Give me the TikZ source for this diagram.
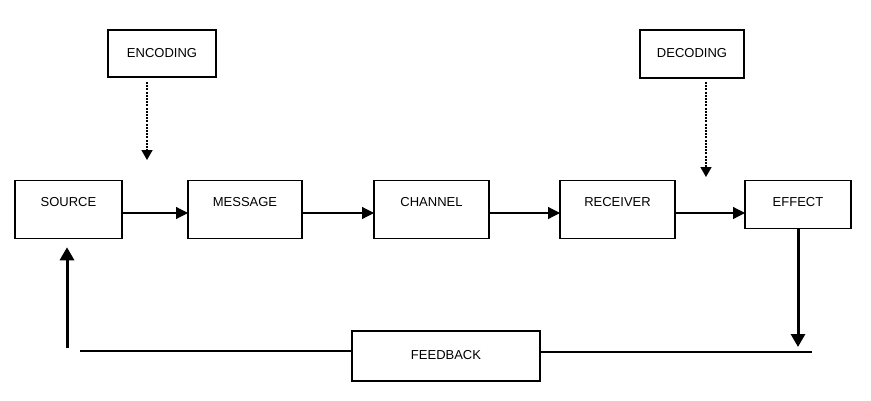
\documentclass[tikz,border=0pt]{standalone}
\usepackage{fontspec}
\setmainfont{Liberation Sans}
\usepackage{tikz}
\usetikzlibrary{arrows.meta,positioning}
\tikzset{
  box/.style={draw, line width=1.2pt, align=center, inner sep=0pt, outer sep=0pt, font=\fontsize{13}{15}\selectfont, text height=9pt},
  stage/.style={box, minimum height=57.5pt, text depth=15pt},
  coder/.style={box, text depth=2pt},
  arrow/.style={-{Triangle[length=12pt, width=12pt]}, line width=1.2pt},
  cue/.style={-{Triangle[length=10pt, width=11pt]}, line width=1.6pt, dash pattern=on 2pt off 1.2pt},
  heavy/.style={-{Triangle[length=13pt, width=14pt]}, line width=3pt}
}

\begin{document}
\begin{tikzpicture}[x=1pt, y=-1pt, node distance=70pt]
    \useasboundingbox (0,0) rectangle (871,400);

    \node[stage, minimum width=107pt] (src) at (68.5,209.5) {SOURCE};
    \node[stage, minimum width=114pt, right=66pt of src] (msg) {MESSAGE};
    \node[stage, minimum width=115pt, right=72pt of msg] (chan) {CHANNEL};
    \node[stage, minimum width=115pt, right=71pt of chan] (recv) {RECEIVER};
    \node[stage, minimum width=106pt, minimum height=48pt, text depth=6pt, right=70pt of recv.north east, anchor=north west] (eff) {EFFECT};

    \node[coder, minimum width=108pt, minimum height=47pt] (enc) at (162,53.5) {ENCODING};
    \node[coder, minimum width=104pt, minimum height=48pt] (dec) at (692,54) {DECODING};
    \node[coder, minimum width=188pt, minimum height=50pt] (fb) at (446,356) {FEEDBACK};

    \coordinate (encT) at (147,160);
    \coordinate (decT) at (706,177);
    \coordinate (fbL) at (80,351);
    \coordinate (fbR) at (812,352);
    \coordinate (upS) at (67,348);

    \draw[arrow] ([yshift=-3.5pt]src.east) -- ([yshift=-3.5pt]src.east -| msg.west);
    \draw[arrow] ([yshift=-3.5pt]msg.east) -- ([yshift=-3.5pt]msg.east -| chan.west);
    \draw[arrow] ([yshift=-3.5pt]chan.east) -- ([yshift=-3.5pt]chan.east -| recv.west);
    \draw[arrow] ([yshift=-3.5pt]recv.east) -- ([yshift=-3.5pt]recv.east -| eff.west);

    \draw[cue, shorten <=5pt] (encT |- enc.south) -- (encT);
    \draw[cue, shorten <=4pt] (decT |- dec.south) -- (decT);

    \draw[heavy, shorten >=5pt] (eff.south) -- (eff.south |- fbR);
    \draw[line width=2.5pt] (fbR -| fb.east) -- (fbR);
    \draw[line width=1.2pt] (fbL) -- (fbL -| fb.west);
    \draw[heavy, shorten >=9pt] (upS) -- (upS |- src.south);
  \end{tikzpicture}
\end{document}
